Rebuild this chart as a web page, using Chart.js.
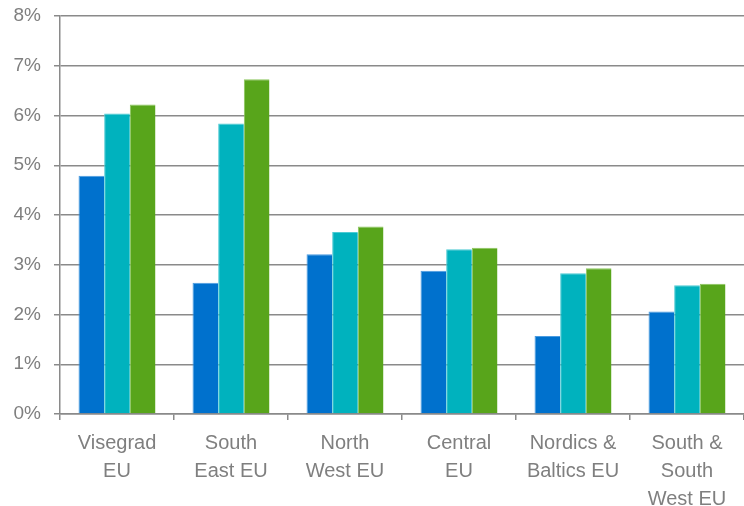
<!DOCTYPE html>
<html>
<head>
    <title>Regional growth</title>
    <script src="https://cdn.jsdelivr.net/npm/chart.js@4"></script>
    <style>
        body { margin: 0; background: #ffffff; }
        #wrap { width: 744px; height: 506px; position: relative; }
    </style>
</head>
<body>
    <div id="wrap"><canvas id="growthChart"></canvas></div>

    <script>
        const regions = [
            ["Visegrad", "EU"],
            ["South", "East EU"],
            ["North", "West EU"],
            ["Central", "EU"],
            ["Nordics &", "Baltics EU"],
            ["South &", "South", "West EU"]
        ];
        const seriesA = [4.79, 2.64, 3.21, 2.88, 1.57, 2.06];
        const seriesB = [6.04, 5.84, 3.66, 3.31, 2.83, 2.59];
        const seriesC = [6.22, 6.73, 3.77, 3.34, 2.93, 2.62];
        const yTicks = [0, 1, 2, 3, 4, 5, 6, 7, 8];

        const gridGrey = "#8a8a8a";
        const textGrey = "#7f7f7f";

        function bars(label, values, fill, edge) {
            return {
                label: label,
                data: values,
                backgroundColor: fill,
                borderColor: edge,
                borderWidth: { top: 1, left: 1, right: 0, bottom: 0 },
                borderSkipped: false,
                categoryPercentage: 0.675,
                barPercentage: 1.0
            };
        }

        new Chart(document.getElementById("growthChart"), {
            type: "bar",
            data: {
                labels: regions,
                datasets: [
                    bars("Series A", seriesA, "#0071cd", "#4a9be0"),
                    bars("Series B", seriesB, "#00b2be", "#4ccbd3"),
                    bars("Series C", seriesC, "#58a51b", "#8cc65e")
                ]
            },
            options: {
                responsive: true,
                maintainAspectRatio: false,
                animation: false,
                layout: { padding: { top: 16, right: 0, left: 0, bottom: 0 } },
                plugins: {
                    legend: { display: false },
                    tooltip: { enabled: false }
                },
                scales: {
                    x: {
                        afterFit: s => { s.height = 92; s.paddingLeft = 0; s.paddingRight = 0; },
                        grid: {
                            display: true,
                            drawOnChartArea: false,
                            drawTicks: true,
                            tickLength: 6,
                            color: gridGrey,
                            lineWidth: 1.5
                        },
                        border: { color: gridGrey, width: 1.5 },
                        ticks: {
                            color: textGrey,
                            padding: 10,
                            maxRotation: 0,
                            autoSkip: false,
                            font: { family: "'Liberation Sans', Arial", size: 20, lineHeight: 1.38 }
                        }
                    },
                    y: {
                        min: 0,
                        max: 8,
                        afterFit: s => { s.width = 60; s.paddingTop = 0; s.paddingBottom = 0; },
                        afterBuildTicks: s => { s.ticks = yTicks.map(v => ({ value: v })); },
                        grid: {
                            color: gridGrey,
                            lineWidth: 1.5,
                            drawTicks: true,
                            tickLength: 6
                        },
                        border: { color: gridGrey, width: 1.5 },
                        ticks: {
                            color: textGrey,
                            padding: 13,
                            font: { family: "'Liberation Sans', Arial", size: 19 },
                            callback: v => v + "%"
                        }
                    }
                }
            }
        });
    </script>
</body>
</html>
